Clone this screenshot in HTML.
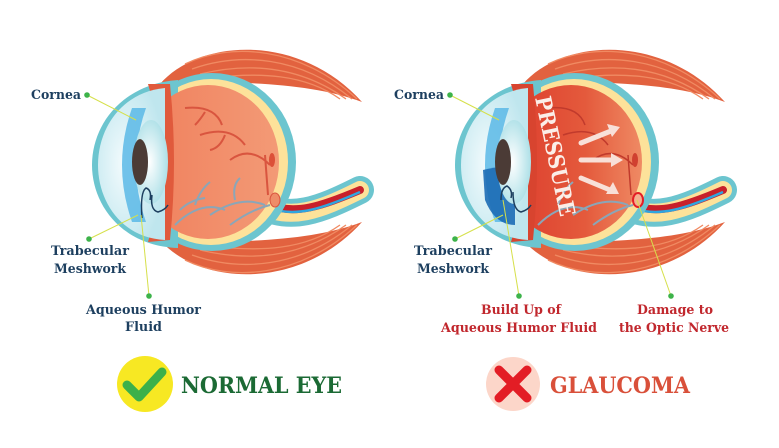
<!DOCTYPE html>
<html><head><meta charset="utf-8"><style>
html,body{margin:0;padding:0;background:#fff;}
svg{display:block}
.lb{font-family:"DejaVu Serif","Liberation Serif",serif;font-weight:bold;font-size:13px;fill:#1d3f5f}
.rd{fill:#c1272d}
</style></head><body>
<svg width="779" height="448" viewBox="0 0 779 448" xmlns="http://www.w3.org/2000/svg">
<defs>
<linearGradient id="gl" x1="0" x2="1"><stop offset="0" stop-color="#f07f5c"/><stop offset="1" stop-color="#f39a76"/></linearGradient>
<linearGradient id="gr" x1="0" x2="1"><stop offset="0" stop-color="#dc3a2c"/><stop offset="0.6" stop-color="#e45a3c"/><stop offset="1" stop-color="#ef8a64"/></linearGradient>
<radialGradient id="lens" cx="0.45" cy="0.5" r="0.6"><stop offset="0" stop-color="#ffffff"/><stop offset="1" stop-color="#a6dde5"/></radialGradient>
<radialGradient id="corn" cx="0.4" cy="0.5" r="0.6"><stop offset="0" stop-color="#f4fbfd"/><stop offset="1" stop-color="#bfe6ee"/></radialGradient>
<g id="mus">
<path d="M160,84 C200,38 300,33 362,102 C315,84 250,82 190,82 Z" fill="#e2623f"/>
<path d="M185,64 C230,42 300,46 357,99 M192,69 C240,52 300,56 352,99 M200,74 C250,62 300,66 346,99 M210,78 C260,72 305,74 340,99" stroke="#f08a62" stroke-width="1.3" fill="none"/>
<path d="M160,240 C200,286 300,291 362,222 C315,240 250,242 190,242 Z" fill="#e2623f"/>
<path d="M185,260 C230,282 300,278 357,225 M192,255 C240,272 300,268 352,225 M200,250 C250,262 300,258 346,225 M210,246 C260,252 305,250 340,225" stroke="#f08a62" stroke-width="1.3" fill="none"/>
<path d="M258,204 C290,222 320,210 360,190" stroke="#6cc5cf" stroke-width="28" fill="none" stroke-linecap="round"/>
<path d="M258,204 C290,222 320,210 360,190" stroke="#fde29a" stroke-width="18" fill="none" stroke-linecap="round"/>
<path d="M268,204 C294,216 322,206 360,190" stroke="#c8202a" stroke-width="8" fill="none" stroke-linecap="round"/>
<path d="M270,208 C296,218 324,208 360,192" stroke="#2ea6e0" stroke-width="2.5" fill="none"/>
<ellipse cx="212" cy="162" rx="84" ry="89" fill="#6cc5cf"/>
<ellipse cx="211" cy="162" rx="77" ry="83" fill="#fde29a"/>
<path d="M178,80 C122,84 92,125 92,165 C92,205 122,246 178,248 Z" fill="#6cc5cf"/>
</g>
<g id="front">
<path d="M165,88 C122,92 98,128 98,165 C98,202 122,238 165,240 Z" fill="url(#corn)"/>
<path d="M132,108 Q112,165 132,222 L146,222 Q126,165 146,108 Z" fill="#5bb9e6" opacity="0.85"/>
</g>
</defs>

<!-- LEFT EYE -->
<use href="#mus"/>
<ellipse cx="208" cy="162" rx="71" ry="77" fill="url(#gl)"/>
<g stroke="#d9553f" stroke-width="2" fill="none">
<path d="M185,108 Q215,105 222,125 M205,112 Q200,120 195,125 M200,135 Q230,125 245,145 M225,135 Q220,148 210,150 M230,160 Q250,145 270,165 M265,155 L268,195"/>
</g>
<g stroke="#8aa6b8" stroke-width="2" fill="none">
<path d="M175,225 Q200,200 225,210 M195,205 Q200,190 210,182 M210,215 Q240,195 265,205 M235,200 Q232,185 240,178 M180,210 Q190,200 205,198 M230,225 Q250,210 270,205"/>
</g>
<ellipse cx="272" cy="160" rx="3" ry="7" fill="#dc5038"/>
<ellipse cx="275" cy="200" rx="5" ry="7" fill="#ee8d68" stroke="#d9553f"/>
<path d="M148,84 Q172,162 148,242 L170,240 Q178,162 170,84 Z" fill="#e05a3c"/>
<use href="#front"/>
<ellipse cx="151" cy="162" rx="17" ry="42" fill="url(#lens)"/>
<ellipse cx="140" cy="162" rx="8" ry="23" fill="#4b3b36"/>
<path d="M142,218 Q140,192 146,188 Q152,190 150,200 M152,195 Q150,210 158,212 Q165,210 168,205" stroke="#1d3f5f" stroke-width="1.5" fill="none"/>

<!-- RIGHT EYE -->
<g transform="translate(363,0)">
<use href="#mus"/>
<ellipse cx="208" cy="162" rx="71" ry="77" fill="url(#gr)"/>
<g stroke="#c13a2c" stroke-width="1.5" fill="none">
<path d="M185,108 Q215,105 222,125 M200,135 Q230,125 245,145 M230,160 Q250,145 270,165 M265,155 L268,195"/>
</g>
<g stroke="#8aa6b8" stroke-width="2" fill="none">
<path d="M175,225 Q200,200 225,210 M195,205 Q200,190 210,182 M210,215 Q240,195 265,205 M230,225 Q250,210 270,205"/>
</g>
<ellipse cx="272" cy="160" rx="3" ry="7" fill="#d04030"/>
<ellipse cx="275" cy="200" rx="5" ry="7" fill="#f4b090" stroke="#e41e26" stroke-width="2"/>
<path d="M148,84 Q172,162 148,242 L170,240 Q178,162 170,84 Z" fill="#d8442f"/>
<use href="#front"/>
<path d="M120,170 Q140,165 152,168 L152,225 Q132,225 122,200 Z" fill="#1c6cb5" opacity="0.9"/>
<ellipse cx="151" cy="162" rx="17" ry="42" fill="url(#lens)"/>
<ellipse cx="140" cy="162" rx="8" ry="23" fill="#4b3b36"/>
<path d="M138,200 Q138,188 144,186 Q150,190 148,198 M150,192 Q150,210 158,212 Q165,210 168,205" stroke="#1d3f5f" stroke-width="1.5" fill="none"/>
<g stroke="#f8e0d8" stroke-width="5" stroke-linecap="round">
<path d="M218,143 L248,131"/><path d="M218,160 L250,160"/><path d="M218,178 L247,190"/>
</g>
<g fill="#f8e0d8">
<path d="M257,127 L244,124 L249,137 Z"/><path d="M260,160 L248,153 L248,167 Z"/><path d="M256,194 L250,182 L243,194 Z"/>
</g>
<text transform="translate(172,98) rotate(78)" font-family="DejaVu Serif,Liberation Serif,serif" font-weight="bold" font-size="22" fill="#fbeee8" textLength="122" lengthAdjust="spacingAndGlyphs">PRESSURE</text>
</g>

<!-- leader lines -->
<g stroke="#d6e04a" stroke-width="1" fill="none">
<path d="M87,95 L136,120"/><path d="M89,239 L138,215"/><path d="M149,296 L141,215"/>
<path d="M450,95 L499,120"/><path d="M455,239 L503,215"/><path d="M519,296 L503,200"/><path d="M671,296 L637,200"/>
</g>
<g fill="#3db34a">
<circle cx="87" cy="95" r="2.8"/><circle cx="89" cy="239" r="2.8"/><circle cx="149" cy="296" r="2.8"/>
<circle cx="450" cy="95" r="2.8"/><circle cx="455" cy="239" r="2.8"/><circle cx="519" cy="296" r="2.8"/><circle cx="671" cy="296" r="2.8"/>
</g>

<text class="lb" x="31" y="99" textLength="50" lengthAdjust="spacingAndGlyphs">Cornea</text>
<text class="lb" x="51" y="255" textLength="78" lengthAdjust="spacingAndGlyphs">Trabecular</text>
<text class="lb" x="54" y="273" textLength="72" lengthAdjust="spacingAndGlyphs">Meshwork</text>
<text class="lb" x="86" y="314" textLength="115" lengthAdjust="spacingAndGlyphs">Aqueous Humor</text>
<text class="lb" x="125" y="331" textLength="37" lengthAdjust="spacingAndGlyphs">Fluid</text>

<text class="lb" x="394" y="99" textLength="50" lengthAdjust="spacingAndGlyphs">Cornea</text>
<text class="lb" x="414" y="255" textLength="78" lengthAdjust="spacingAndGlyphs">Trabecular</text>
<text class="lb" x="417" y="273" textLength="72" lengthAdjust="spacingAndGlyphs">Meshwork</text>
<text class="lb rd" x="481" y="314" textLength="80" lengthAdjust="spacingAndGlyphs">Build Up of</text>
<text class="lb rd" x="441" y="332" textLength="156" lengthAdjust="spacingAndGlyphs">Aqueous Humor Fluid</text>
<text class="lb rd" x="637" y="314" textLength="76" lengthAdjust="spacingAndGlyphs">Damage to</text>
<text class="lb rd" x="619" y="332" textLength="110" lengthAdjust="spacingAndGlyphs">the Optic Nerve</text>

<!-- bottom badges -->
<circle cx="145" cy="384" r="28" fill="#f7e823"/>
<path d="M127,385 L139,397 L162,372" stroke="#3cb04a" stroke-width="9" stroke-linecap="round" stroke-linejoin="round" fill="none"/>
<text x="181" y="393" font-family="DejaVu Serif,Liberation Serif,serif" font-weight="bold" font-size="22" fill="#1b6a34" textLength="161" lengthAdjust="spacingAndGlyphs">NORMAL EYE</text>

<circle cx="513" cy="384" r="27" fill="#fcd6c9"/>
<path d="M499,370 L527,398 M527,370 L499,398" stroke="#e31d25" stroke-width="9" stroke-linecap="round"/>
<text x="550" y="393" font-family="DejaVu Serif,Liberation Serif,serif" font-weight="bold" font-size="22" fill="#d9503a" textLength="140" lengthAdjust="spacingAndGlyphs">GLAUCOMA</text>
</svg>
</body></html>
